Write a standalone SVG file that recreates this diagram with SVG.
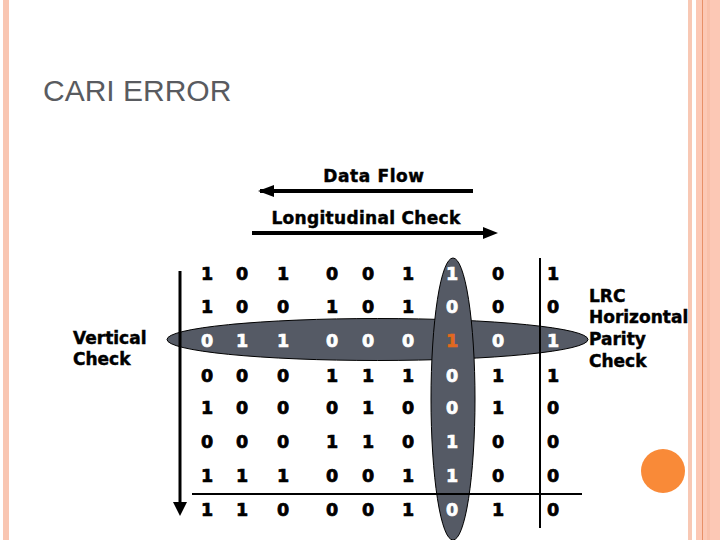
<svg xmlns="http://www.w3.org/2000/svg" width="720" height="540" viewBox="0 0 720 540">
<style>
.lbl{font-family:"DejaVu Sans",sans-serif;font-weight:bold;font-size:17px;fill:#000;stroke:#000;stroke-width:0.45}
.d{font-family:"DejaVu Sans",sans-serif;font-weight:bold;font-size:17.5px;text-anchor:middle;fill:#000;stroke:#000;stroke-width:0.7}
.w{fill:#fff;stroke:#fff}
.o{fill:#e2691e;stroke:#e2691e}
.ell{fill:#555a65;stroke:#000;stroke-width:1}
</style>
<rect width="720" height="540" fill="#fff"/>
<g id="frame">
<rect x="3" y="0" width="6" height="540" fill="#f9c6b2"/>
<rect x="688" y="0" width="4" height="540" fill="#f8c8b4"/>
<rect x="696" y="0" width="24" height="540" fill="#fcc8b5"/>
<rect x="707" y="0" width="3" height="540" fill="#f9c0aa"/>
<rect x="702" y="0" width="1" height="540" fill="#e89068"/>
</g>
<text x="43" y="101" font-family="Liberation Sans, Arial, sans-serif" font-size="30" fill="#595b60">CARI ERROR</text>
<g id="ellipses">
<ellipse id="row-ellipse" class="ell" cx="377.5" cy="339.5" rx="210.5" ry="21"/>
<ellipse id="col-ellipse" class="ell" cx="453" cy="399" rx="22" ry="141"/>
</g>
<g id="connectors" stroke="#000" fill="none">
<line x1="473" y1="191" x2="260" y2="191" stroke-width="4"/>
<path d="M258,191 L274,185 L274,197 Z" fill="#000" stroke="none"/>
<line x1="252" y1="233" x2="486" y2="233" stroke-width="4"/>
<path d="M498,233 L483,227 L483,239 Z" fill="#000" stroke="none"/>
<line x1="180" y1="271" x2="180" y2="504" stroke-width="3"/>
<path d="M180,516 L173,502 L187,502 Z" fill="#000" stroke="none"/>
<line x1="540" y1="258" x2="540" y2="528" stroke-width="2"/>
<line x1="192" y1="494" x2="582" y2="494" stroke-width="2"/>
</g>
<g id="labels">
<text class="lbl" x="374" y="182" text-anchor="middle" letter-spacing="0.6">Data Flow</text>
<text class="lbl" x="366" y="224" text-anchor="middle" letter-spacing="0.3">Longitudinal Check</text>
<g id="vertical-check"><text class="lbl" x="73" y="344">Vertical</text><text class="lbl" x="73" y="365">Check</text></g>
<g id="lrc"><text class="lbl" x="589" y="302">LRC</text><text class="lbl" x="589" y="323">Horizontal</text><text class="lbl" x="589" y="345">Parity</text><text class="lbl" x="589" y="367">Check</text></g>
</g>
<g id="matrix">
<g id="r1"><text class="d" x="207" y="280">1</text><text class="d" x="242" y="280">0</text><text class="d" x="283" y="280">1</text><text class="d" x="332" y="280">0</text><text class="d" x="368" y="280">0</text><text class="d" x="408" y="280">1</text><text class="d w" x="452" y="280">1</text><text class="d" x="498" y="280">0</text><text class="d" x="553" y="280">1</text></g>
<g id="r2"><text class="d" x="207" y="313">1</text><text class="d" x="242" y="313">0</text><text class="d" x="283" y="313">0</text><text class="d" x="332" y="313">1</text><text class="d" x="368" y="313">0</text><text class="d" x="408" y="313">1</text><text class="d w" x="452" y="313">0</text><text class="d" x="498" y="313">0</text><text class="d" x="553" y="313">0</text></g>
<g id="r3"><text class="d w" x="207" y="347">0</text><text class="d w" x="242" y="347">1</text><text class="d w" x="283" y="347">1</text><text class="d w" x="332" y="347">0</text><text class="d w" x="368" y="347">0</text><text class="d w" x="408" y="347">0</text><text class="d o" x="452" y="347">1</text><text class="d w" x="498" y="347">0</text><text class="d w" x="553" y="347">1</text></g>
<g id="r4"><text class="d" x="207" y="382">0</text><text class="d" x="242" y="382">0</text><text class="d" x="283" y="382">0</text><text class="d" x="332" y="382">1</text><text class="d" x="368" y="382">1</text><text class="d" x="408" y="382">1</text><text class="d w" x="452" y="382">0</text><text class="d" x="498" y="382">1</text><text class="d" x="553" y="382">1</text></g>
<g id="r5"><text class="d" x="207" y="414">1</text><text class="d" x="242" y="414">0</text><text class="d" x="283" y="414">0</text><text class="d" x="332" y="414">0</text><text class="d" x="368" y="414">1</text><text class="d" x="408" y="414">0</text><text class="d w" x="452" y="414">0</text><text class="d" x="498" y="414">1</text><text class="d" x="553" y="414">0</text></g>
<g id="r6"><text class="d" x="207" y="448">0</text><text class="d" x="242" y="448">0</text><text class="d" x="283" y="448">0</text><text class="d" x="332" y="448">1</text><text class="d" x="368" y="448">1</text><text class="d" x="408" y="448">0</text><text class="d w" x="452" y="448">1</text><text class="d" x="498" y="448">0</text><text class="d" x="553" y="448">0</text></g>
<g id="r7"><text class="d" x="207" y="482">1</text><text class="d" x="242" y="482">1</text><text class="d" x="283" y="482">1</text><text class="d" x="332" y="482">0</text><text class="d" x="368" y="482">0</text><text class="d" x="408" y="482">1</text><text class="d w" x="452" y="482">1</text><text class="d" x="498" y="482">0</text><text class="d" x="553" y="482">0</text></g>
<g id="r8"><text class="d" x="207" y="516">1</text><text class="d" x="242" y="516">1</text><text class="d" x="283" y="516">0</text><text class="d" x="332" y="516">0</text><text class="d" x="368" y="516">0</text><text class="d" x="408" y="516">1</text><text class="d w" x="452" y="516">0</text><text class="d" x="498" y="516">1</text><text class="d" x="553" y="516">0</text></g>
</g>
<circle id="dot" cx="663" cy="471" r="22" fill="#f98a38"/>
</svg>
